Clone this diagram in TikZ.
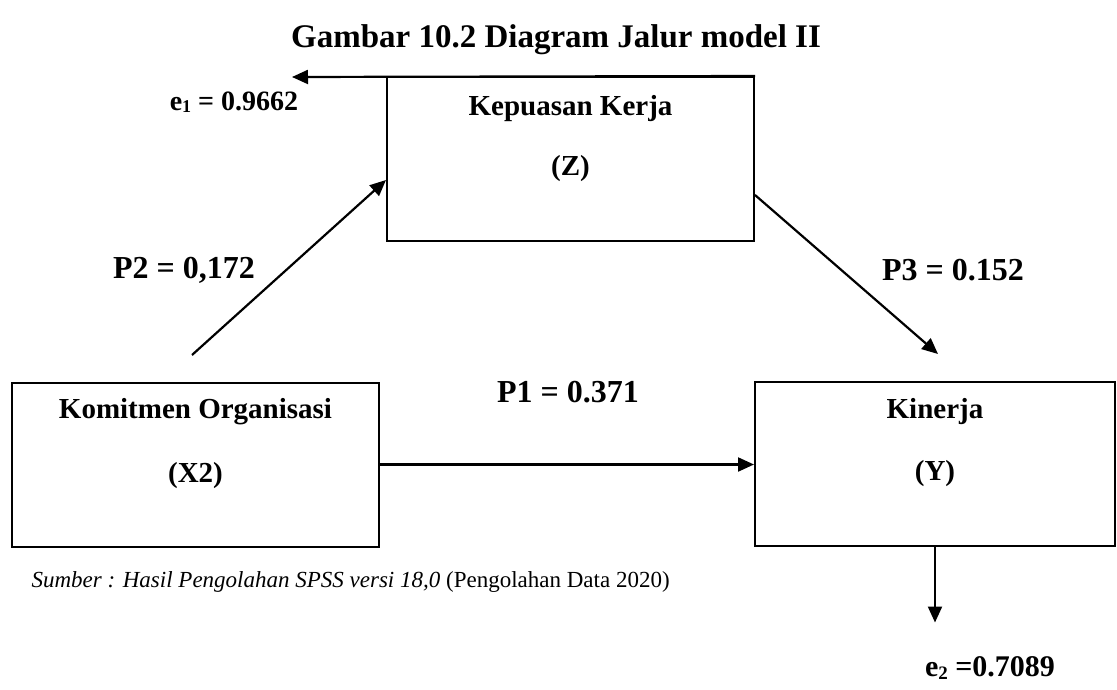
\documentclass[tikz,border=0pt]{standalone}
\usepackage{fontspec}
\setmainfont{Liberation Serif}
\usetikzlibrary{arrows.meta,positioning}

\begin{document}
\begin{tikzpicture}[x=1pt,y=-1pt,
  kotak/.style={draw,line width=2pt,minimum height=164pt,inner sep=0pt},
  teks/.style={font=\fontsize{29}{34}\selectfont\bfseries},
  koef/.style={font=\fontsize{32}{38}\selectfont\bfseries},
  galat/.style={font=\fontsize{28}{33}\selectfont\bfseries},
  panah/.style={line width=2.2pt,-{Triangle[length=16pt,width=14pt]}}]
  \useasboundingbox (0,0) rectangle (1117,689);

  % Title
  \node[koef,font=\fontsize{33}{39}\selectfont\bfseries] (judul) at (556,40) {Gambar 10.2 Diagram Jalur model II};

  % Boxes
  \node[kotak,minimum width=367pt] (Z) at (570.5,159) {};
  \node[kotak,minimum width=367pt] (X2) at (195.5,464.5) {};
  \node[kotak,minimum width=360pt] (Y) at (935,463.5) {};

  \node[teks] (Znama) at ([yshift=-33pt]Z.north) {Kepuasan Kerja};
  \node[teks] (Zkode) at ([yshift=-93pt]Z.north) {(Z)};
  \node[teks] (Xnama) at ([yshift=-30pt]X2.north) {Komitmen Organisasi};
  \node[teks] (Xkode) at ([yshift=-94pt]X2.north) {(X2)};
  \node[teks] (Ynama) at ([yshift=-31pt]Y.north) {Kinerja};
  \node[teks] (Ykode) at ([yshift=-93pt]Y.north) {(Y)};

  % Paths
  \coordinate (p2awal) at (192,355);
  \coordinate (p3ujung) at (938,354);
  \coordinate (e1ujung) at (292,77);
  \draw[panah] (X2.east) -- (X2.east -| Y.west); % P1
  \draw[panah] (p2awal) -- ([yshift=-21pt]Z.west); % P2
  \draw[panah] ([yshift=-36pt]Z.east) -- (p3ujung); % P3
  \draw[panah] (Z.north east) -- (e1ujung); % e1
  \draw[panah] (Y.south) -- ++(0,76) coordinate (e2ujung); % e2

  % Coefficients
  \node[koef] (P1) at (568,392) {P1 = 0.371};
  \node[koef] (P2) at (184,270) {P2 = 0,172};
  \node[koef] (P3) at (953,270) {P3 = 0.152};
  \node[galat] (e1) at (234,102) {e\raisebox{-0.15ex}{\fontsize{18}{18}\selectfont 1} = 0.9662};
  \node[galat,font=\fontsize{30}{36}\selectfont\bfseries] (e2) at (990,668) {e\raisebox{-0.15ex}{\fontsize{19}{19}\selectfont 2} =0.7089};

  % Source
  \node[anchor=west,font=\fontsize{23}{27}\selectfont] (sumber) at (28,582)
    {\textit{Sumber : Hasil Pengolahan SPSS versi 18,0} (Pengolahan Data 2020)};
\end{tikzpicture}
\end{document}
